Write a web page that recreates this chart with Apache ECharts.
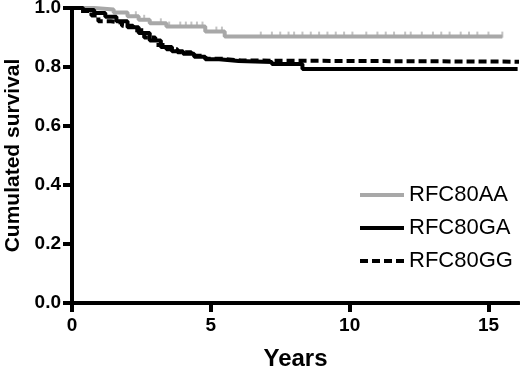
<!DOCTYPE html>
<html>
<head>
<meta charset="utf-8">
<script src="https://cdn.jsdelivr.net/npm/echarts@6/dist/echarts.min.js"></script>
<style>
  html, body { margin: 0; padding: 0; background: #fff; }
  #chart { width: 520px; height: 369px; }
</style>
</head>
<body>
<div id="chart"></div>
<script>
// Kaplan-Meier steps (years, survival)
var aaTimes = [0, 0.8, 1.5, 2.0, 2.4, 2.8, 3.4, 4.8, 5.5, 15.5];
var aaSurv  = [1.0, 0.995, 0.985, 0.972, 0.96, 0.948, 0.937, 0.92, 0.903, 0.903];
var aaCensor = [2.0, 2.3, 2.6, 3.2, 3.5, 3.9, 4.1, 4.3, 4.5, 4.7, 5.2, 5.4, 6.8, 7.2, 7.5,
                7.8, 8.0, 8.3, 8.6, 8.9, 9.2, 9.5, 9.8, 10.1, 10.6, 11.0, 11.3, 11.6, 12.0,
                12.2, 12.6, 13.0, 13.3, 13.6, 14.0, 14.3, 14.6, 15.0, 15.5];

var gaTimes = [0, 0.4, 0.8, 1.2, 1.6, 2.0, 2.4, 2.8, 3.2, 3.6, 4.0, 4.4, 4.8, 5.3, 6.0, 7.2, 8.3, 16.05];
var gaSurv  = [1.0, 0.993, 0.983, 0.97, 0.955, 0.935, 0.915, 0.89, 0.868, 0.853, 0.845, 0.835, 0.826, 0.82, 0.817, 0.81, 0.793, 0.793];

var ggTimes = [0, 0.3, 0.7, 0.95, 1.4, 1.8, 2.2, 2.6, 3.0, 3.4, 3.8, 4.3, 4.8, 5.4, 6.1, 16.1];
var ggSurv  = [1.0, 0.99, 0.975, 0.955, 0.95, 0.94, 0.925, 0.9, 0.875, 0.86, 0.85, 0.838, 0.828, 0.822, 0.818, 0.818];

var xTicks = [0, 5, 10, 15];

function pairs(t, s) {
    return t.map(function(v, i) { return [v, s[i]]; });
}

// survival value of a step curve at time t (for placing the censor marks)
function stepAt(t, times, surv) {
    var v = surv[0];
    for (var i = 0; i < times.length; i++) {
        if (times[i] <= t) v = surv[i];
    }
    return v;
}

var myChart = echarts.init(document.getElementById('chart'));
var font = '"Liberation Sans", Arial, sans-serif';

var option = {
    animation: false,
    grid: { left: 72, right: 1, top: 8, bottom: 66, containLabel: false, outerBoundsMode: 'none' },
    legend: {
        data: ['RFC80AA', 'RFC80GA', 'RFC80GG'],
        orient: 'vertical',
        left: 358,
        top: 184,
        padding: 0,
        itemWidth: 44,
        itemHeight: 14,
        itemGap: 11,
        itemStyle: { opacity: 0 },
        lineStyle: { width: 4 },
        textStyle: { fontFamily: font, fontSize: 22, color: '#000' }
    },
    xAxis: {
        type: 'value',
        min: 0,
        max: 16.1,
        interval: 5,
        name: 'Years',
        nameLocation: 'middle',
        nameGap: 44,
        nameTextStyle: { fontFamily: font, fontSize: 24, fontWeight: 'bold', color: '#000' },
        axisLine: { show: true, lineStyle: { color: '#000', width: 4 } },
        axisTick: { show: true, length: 9, lineStyle: { width: 4 }, customValues: xTicks },
        axisLabel: {
            fontFamily: font, fontSize: 19, fontWeight: 'bold', color: '#000', margin: 13,
            customValues: xTicks,
            formatter: function(v) { return v % 5 === 0 ? String(v) : ''; }
        },
        splitLine: { show: false }
    },
    yAxis: {
        type: 'value',
        min: 0,
        max: 1,
        interval: 0.2,
        name: 'Cumulated survival',
        nameLocation: 'middle',
        nameGap: 48,
        nameTextStyle: { fontFamily: font, fontSize: 21, fontWeight: 'bold', color: '#000' },
        axisLine: { show: true, lineStyle: { color: '#000', width: 4 } },
        axisTick: { show: true, length: 9, lineStyle: { width: 4 } },
        axisLabel: {
            fontFamily: font, fontSize: 19, fontWeight: 'bold', color: '#000', margin: 11,
            formatter: function(v) { return v.toFixed(1); }
        },
        splitLine: { show: false }
    },
    series: [
        {
            name: 'RFC80AA',
            type: 'line',
            step: 'end',
            symbol: 'none',
            color: '#a8a8a8',
            lineStyle: { color: '#a8a8a8', width: 4 },
            data: pairs(aaTimes, aaSurv)
        },
        {
            name: 'censorAA',
            type: 'scatter',
            symbol: 'rect',
            symbolSize: [2, 6],
            symbolOffset: [0, -2],
            itemStyle: { color: '#b4b4b4' },
            data: aaCensor.map(function(t) { return [t, stepAt(t, aaTimes, aaSurv)]; })
        },
        {
            name: 'RFC80GA',
            type: 'line',
            step: 'end',
            symbol: 'none',
            color: '#000',
            lineStyle: { color: '#000', width: 4 },
            data: pairs(gaTimes, gaSurv)
        },
        {
            name: 'RFC80GG',
            type: 'line',
            step: 'end',
            symbol: 'none',
            color: '#000',
            lineStyle: { color: '#000', width: 4, type: [8, 4] },
            data: pairs(ggTimes, ggSurv)
        }
    ]
};

myChart.setOption(option);
</script>
</body>
</html>
